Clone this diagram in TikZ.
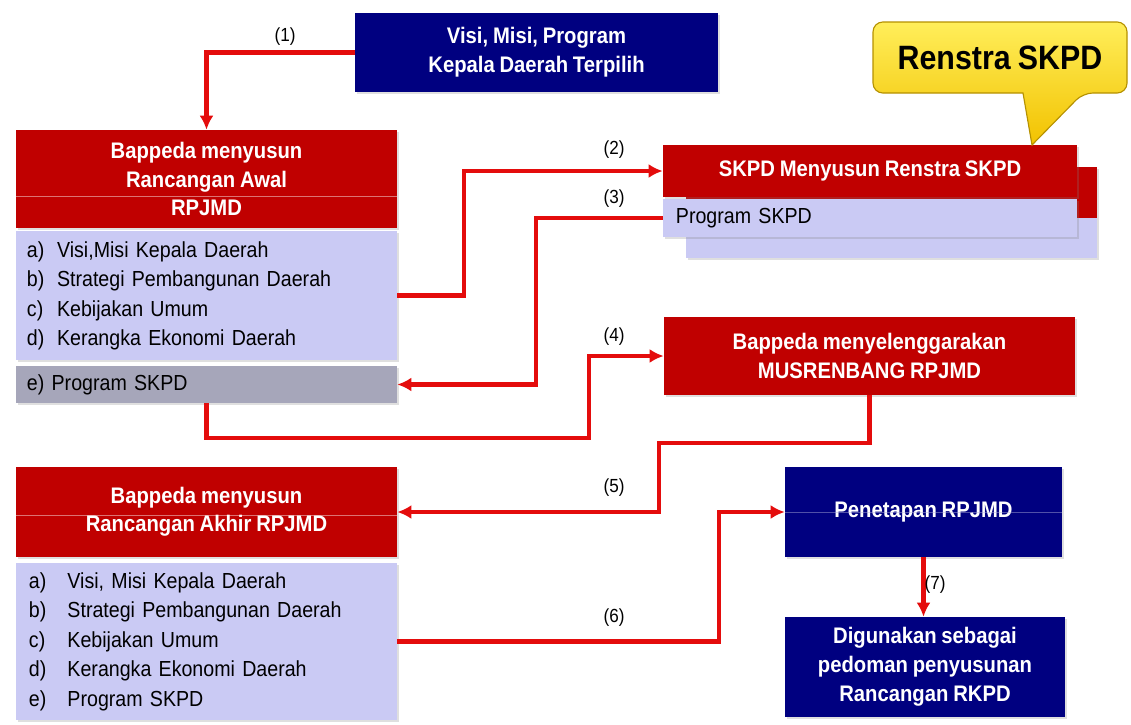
\documentclass[tikz,border=0pt]{standalone}
\usepackage{fontspec}
\setmainfont{Liberation Sans}[FakeStretch=0.9,WordSpace=0.85]
\usepackage{tikz}
\usetikzlibrary{arrows.meta,shadows}
\definecolor{hdrred}{RGB}{192,0,0}
\definecolor{navy}{RGB}{0,0,128}
\definecolor{lav}{RGB}{202,202,244}
\definecolor{greybar}{RGB}{166,166,186}
\definecolor{arrred}{RGB}{228,12,12}
\definecolor{gold1}{RGB}{255,238,90}
\definecolor{gold2}{RGB}{242,194,0}

\begin{document}
\begin{tikzpicture}[x=0.025cm,y=-0.025cm,every node/.style={font=\fontsize{15.5}{21}\selectfont}]
\tikzset{
  shd/.style={drop shadow={opacity=0.25,shadow xshift=1.5pt,shadow yshift=-1.5pt}},
  hdr/.style={fill=hdrred, text=white, font=\fontsize{16}{20}\selectfont\bfseries, align=center, inner sep=0},
  navybox/.style={fill=navy, text=white, font=\fontsize{16}{20.5}\selectfont\bfseries, align=center, inner sep=0, shd},
  lst/.style={fill=lav, text=black, align=left, inner ysep=0},
  arr/.style={arrred, line width=2.9pt, -{Latex[length=10pt,width=10pt]}},
  num/.style={font=\fontsize{13.5}{16}\selectfont, inner sep=1pt},
  seam/.style={white, opacity=0.45, line width=0.6pt}
}
\useasboundingbox (0,0) rectangle (1131,724);
% top: visi misi program
\node[navybox, minimum width=9.075cm, minimum height=1.975cm] (vmk) at (536.5,52.5) {Visi, Misi, Program\\Kepala Daerah Terpilih};
% rancangan awal
\node[hdr, shd, minimum width=9.525cm, minimum height=2.45cm] (hdrA) at (206.5,179) {Bappeda menyusun\\Rancangan Awal\\RPJMD};
\draw[seam] (hdrA.west |- 0,196) -- (hdrA.east |- 0,196);
\node[lst, shd, minimum width=9.525cm, minimum height=3.225cm, text width=8.975cm, inner xsep=0.275cm] (listA) at (206.5,295.5)
  {\begin{tabular}{@{}l@{\hspace{9pt}}l@{}}
   a) & Visi,Misi Kepala Daerah\\
   b) & Strategi Pembangunan Daerah\\
   c) & Kebijakan Umum\\
   d) & Kerangka Ekonomi Daerah
   \end{tabular}};
\node[lst, shd, fill=greybar, minimum width=9.525cm, minimum height=0.925cm, text width=8.975cm, inner xsep=0.275cm] (progA) at (206.5,384.5) {e) Program SKPD};
% renstra skpd
\node[lst, shd, minimum width=10.275cm, minimum height=2.275cm] (skpdBk) at (891.5,212.5) {};
\node[fill=hdrred, minimum width=10.275cm, minimum height=1.275cm, inner sep=0] (skpdBkR) at (891.5,192.5) {};
\node[hdr, shd, minimum width=10.35cm, minimum height=1.3cm] (skpd) at (870,171) {SKPD Menyusun Renstra SKPD};
\node[lst, shd, minimum width=10.35cm, minimum height=0.95cm, text width=9.7cm, inner xsep=0.325cm] (progS) at (870,218) {Program SKPD};
% callout
\draw[draw=gold2!75!black, line width=0.8pt, top color=gold1, bottom color=gold2, rounded corners=7pt]
  (873,22) -- (1127,22) -- (1127,93) -- (1083,93) [sharp corners] -- (1032,145) -- (1023,93) [rounded corners=7pt] -- (873,93) -- cycle;
\node[font=\fontsize{24}{28}\selectfont\bfseries] (rens) at (1000,58) {Renstra SKPD};
% musrenbang
\node[hdr, shd, minimum width=10.275cm, minimum height=1.95cm] (musren) at (869.5,356) {Bappeda menyelenggarakan\\MUSRENBANG RPJMD};
% rancangan akhir
\node[hdr, shd, minimum width=9.525cm, minimum height=2.25cm] (hdrB) at (206.5,512) {Bappeda menyusun\\Rancangan Akhir RPJMD};
\draw[seam] (hdrB.west |- 0,515) -- (hdrB.east |- 0,515);
\node[lst, shd, minimum width=9.525cm, minimum height=3.925cm, text width=8.875cm, inner xsep=0.325cm] (listB) at (206.5,641.5)
  {\begin{tabular}{@{}l@{\hspace{15pt}}l@{}}
   a) & Visi, Misi Kepala Daerah\\
   b) & Strategi Pembangunan Daerah\\
   c) & Kebijakan Umum\\
   d) & Kerangka Ekonomi Daerah\\
   e) & Program SKPD
   \end{tabular}};
% penetapan
\node[navybox, minimum width=6.925cm, minimum height=2.25cm] (penet) at (923.5,512) {Penetapan RPJMD};
\draw[seam, white!70!navy] (penet.west) -- (penet.east);
\node[navybox, minimum width=7.0cm, minimum height=2.5cm] (digu) at (925,667) {Digunakan sebagai\\pedoman penyusunan\\Rancangan RKPD};
% connectors
\draw[arr] (vmk.west) -| (hdrA.north);
\node[num] (l1) at (285,37) {(1)};
\draw[arr] (listA.east) -- ++(67,0) |- (skpd.west);
\node[num] (l2) at (614,150) {(2)};
\draw[arr] (progS.west) -- ++(-127,0) |- (progA.east);
\node[num] (l3) at (614,199) {(3)};
\draw[arr] (progA.south) |- (589,438) |- (musren.west);
\node[num] (l4) at (614,337) {(4)};
\draw[arr] (musren.south) |- (659,443) |- (hdrB.east);
\node[num] (l5) at (614,488) {(5)};
\draw[arr] (listB.east) -- ++(322,0) |- (penet.west);
\node[num] (l6) at (614,618) {(6)};
\draw[arr] (penet.south) -- (penet.south |- digu.north);
\node[num, anchor=west] (l7) at (923,585) {(7)};
\end{tikzpicture}
\end{document}
